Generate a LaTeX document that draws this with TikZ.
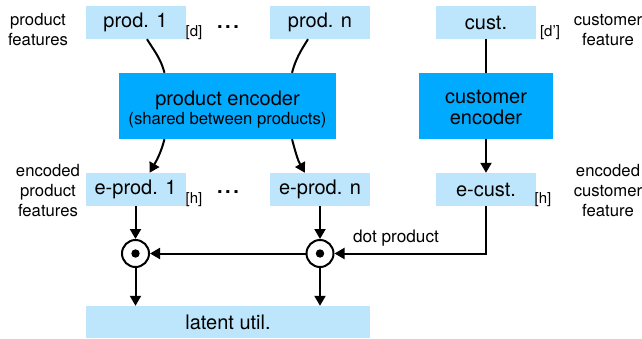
\documentclass[tikz,border=0pt]{standalone}
\usepackage{fontspec}
\setmainfont{TeX Gyre Heros}
\usetikzlibrary{arrows.meta}
\definecolor{lblue}{RGB}{189, 229, 251}
\definecolor{mblue}{RGB}{0, 170, 255}
\newcommand{\bigf}{\fontsize{20}{22}\selectfont}
\newcommand{\smallf}{\fontsize{16.7}{20}\selectfont}
\newcommand{\hdots}{.\kern2.5pt.\kern2.5pt.}
\tikzset{feat/.style = {fill = lblue, inner sep = 0, minimum width = 100, minimum height = 33, font = \bigf}}
\tikzset{enc/.style = {fill = mblue, inner sep = 0, minimum height = 66, align = center, font = \bigf}}
\tikzset{lab/.style = {align = center, inner sep = 0, font = \smallf}}
\tikzset{dimen/.style = {inner sep = 0, font = \fontsize{15}{17}\selectfont}}
\tikzset{odot/.style = {draw, circle, line width = 2, inner sep = 0, minimum size = 27}}
\tikzset{wire/.style = {line width = 2}}
\tikzset{arr/.style = {line width = 2, -{Triangle[length = 10, width = 11]}}}

\begin{document}
\begin{tikzpicture}[x = 1pt, y = 1pt]
      \useasboundingbox (0, 0) rectangle (642, -338);

      % input features
      \node [feat] (p1) at (135.5, -22.5) {prod. 1};
      \node [feat] (pn) at (320, -22.5) {prod. n};
      \node [feat] (c) at (486, -22.5) {cust.};

      % encoders
      \node [enc, minimum width = 217] (penc) at (227.5, -106)
        {\rule{0pt}{22pt}product encoder\\[-3pt]{\smallf (shared between products)}};
      \node [enc, minimum width = 134] (cenc) at (486, -106) {\rule{0pt}{16pt}customer\\[-1pt]encoder};

      % encoded features
      \node [feat] (ep1) at (135.5, -189.5) {e-prod. 1};
      \node [feat] (epn) at (320, -189.5) {e-prod. n};
      \node [feat] (ec) at (486, -189.5) {e-cust.};

      \node [odot] (d1) at (135.5, -253.5) {};
      \node [odot] (dn) at (320, -253.5) {};
      \foreach \n in {d1, dn} {
        \fill (\n) circle (4.2);
      }

      \node [feat, minimum width = 284, minimum height = 32] (lat) at (228, -322) {latent util.};

      % side labels
      \node [lab] (pf) at (38, -30) {product\\features};
      \node [lab] (cf) at (608, -30) {customer\\feature};
      \node [lab] (epf) at (48, -191) {encoded\\product\\features};
      \node [lab] (ecf) at (608, -191) {encoded\\customer\\feature};
      \node [dimen] (dd) at (194, -33) {[d]};
      \node [dimen] (dc) at (550, -33) {[d']};
      \node [dimen] (hp) at (194, -200) {[h]};
      \node [dimen] (hc) at (543, -200) {[h]};
      \node [inner sep = 0, font = \bigf\bfseries] (dots1) at (228, -27) {\hdots};
      \node [inner sep = 0, font = \bigf\bfseries] (dots2) at (228, -192) {\hdots};
      \node [lab, font = \fontsize{17.2}{20}\selectfont] (dp) at (396, -238) {dot product};

      % connectors
      \draw [wire] ([xshift = 11.5] p1.south) to [out = -58, in = 105] ([xshift = -63] penc.north);
      \draw [arr] ([xshift = -63] penc.south) to [out = -105, in = 60] ([xshift = 14] ep1.north);
      \draw [wire] ([xshift = -12] pn.south) to [out = -122, in = 75] ([xshift = 64.5] penc.north);
      \draw [arr] ([xshift = 64.5] penc.south) to [out = -75, in = 120] ([xshift = -15] epn.north);
      \draw [wire] (c) -- (cenc);
      \draw [arr] (cenc) -- (ec);
      \draw [arr] (ep1) -- (d1);
      \draw [arr] (epn) -- (dn);
      \draw [arr] (ec.south) |- (dn);
      \draw [arr] (dn) -- (d1);
      \draw [arr] (d1) -- (d1 |- lat.north);
      \draw [arr] (dn) -- (dn |- lat.north);
    \end{tikzpicture}
\end{document}
